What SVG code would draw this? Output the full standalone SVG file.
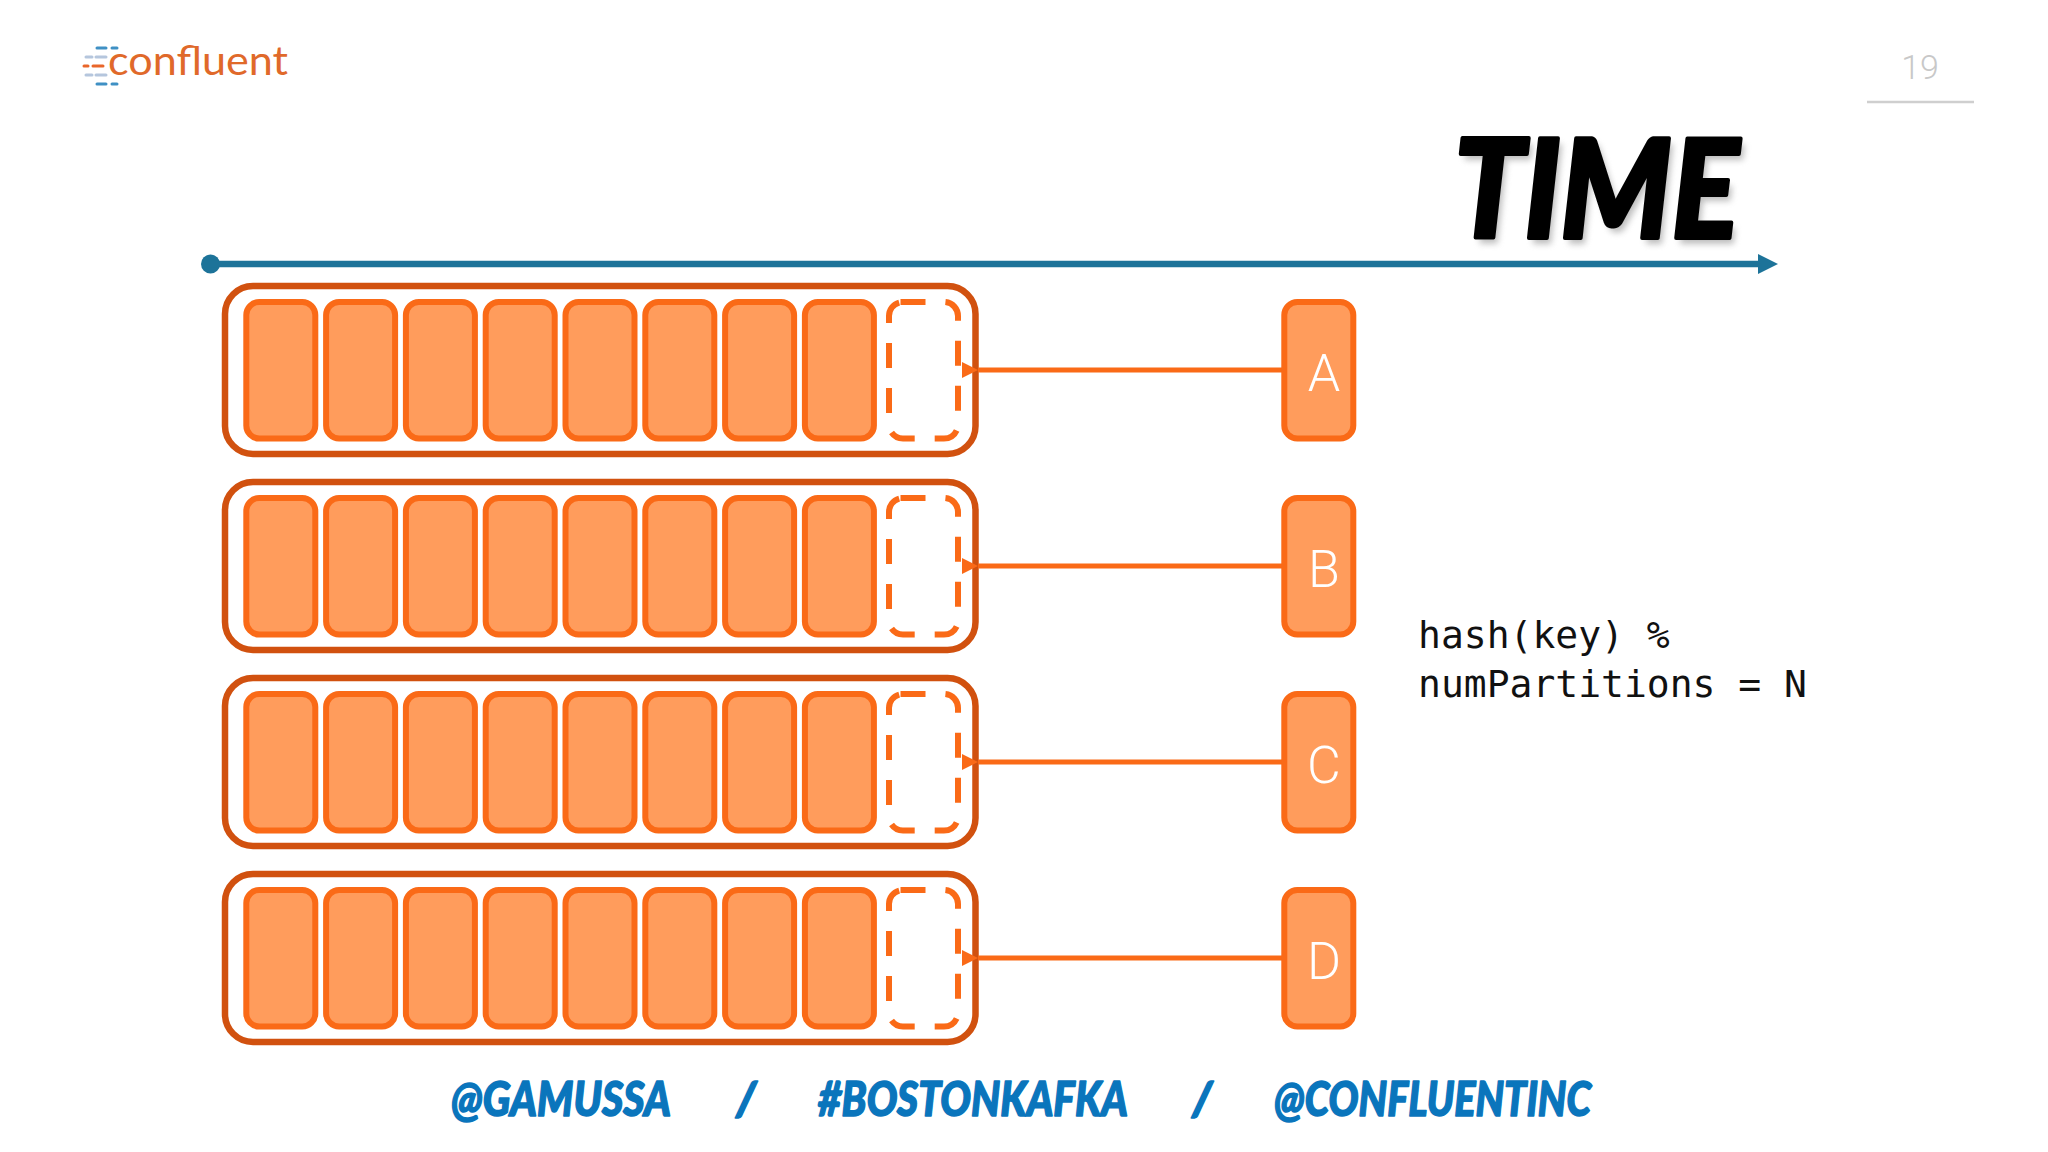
<svg xmlns="http://www.w3.org/2000/svg" width="2048" height="1152" viewBox="0 0 2048 1152">
<style>
.outer{fill:#fff;stroke:#d1510f;stroke-width:6.5}
.cell{fill:#ff9c5c;stroke:#fa6a17;stroke-width:6}
.slot{fill:none;stroke:#fa6a17;stroke-width:6;stroke-dasharray:25 20}
.lab{font-family:"Roboto","Liberation Sans",sans-serif;font-weight:300;font-size:52px;fill:#fff;text-anchor:middle}
.conn{fill:none;stroke:#fa6a17;stroke-width:5}
.brand{font-family:"Lato","Open Sans",sans-serif;font-weight:900;font-style:italic;font-size:47px;fill:#0a75bc;stroke:#0a75bc;stroke-width:1.5;stroke-linejoin:round}
.code{font-family:"DejaVu Sans Mono","Liberation Mono",monospace;font-size:38px;fill:#111}
.ld{stroke-width:3;stroke-linecap:round;fill:none}
</style>
<defs>
<marker id="arrOrange" markerUnits="userSpaceOnUse" markerWidth="16" markerHeight="16" refX="0" refY="8" orient="auto"><path d="M0 8L16 0V16Z" fill="#fa6a17"/></marker>
<marker id="arrBlue" markerUnits="userSpaceOnUse" markerWidth="20" markerHeight="20" refX="0" refY="10" orient="auto"><path d="M0 0L20 10L0 20Z" fill="#1d7399"/></marker>
<filter id="soft" x="-10%" y="-10%" width="120%" height="130%"><feGaussianBlur stdDeviation="3"/></filter>
</defs>
<rect width="2048" height="1152" fill="#fff"/>

<g id="logo">
<path class="ld" stroke="#3f90c4" d="M97 48H106M112 48H117M97 84H106M112 84H117"/>
<path class="ld" stroke="#b5c6dd" d="M86 57H92M96 57H106M86 75H92M96 75H106"/>
<path class="ld" stroke="#e9662a" d="M84 66H88M93 66H103"/>
<text x="108" y="75" font-family="Lato,'Open Sans',sans-serif" font-size="41" font-weight="400" fill="#e0692a" textLength="180" lengthAdjust="spacingAndGlyphs">confluent</text>
</g>
<g id="page-number">
<text x="1920" y="79" font-family="Roboto,'Liberation Sans',sans-serif" font-weight="300" font-size="34" fill="#c8c8c8" text-anchor="middle">19</text>
<path d="M1867 102H1974" stroke="#cfcfcf" stroke-width="2.5"/>
</g>
<g id="time-label">
<text x="1458" y="244" font-family="Lato,'Open Sans',sans-serif" font-weight="900" font-style="italic" font-size="138" fill="#888" opacity=".55" filter="url(#soft)" textLength="285" lengthAdjust="spacingAndGlyphs">TIME</text>
<text x="1454" y="238" font-family="Lato,'Open Sans',sans-serif" font-weight="900" font-style="italic" font-size="138" fill="#000" stroke="#000" stroke-width="4" stroke-linejoin="round" textLength="285" lengthAdjust="spacingAndGlyphs">TIME</text>
</g>

<g id="partition-a">
<rect class="outer" x="225" y="286" width="750.5" height="168" rx="28"/>
<rect class="cell" x="246.3" y="302" width="69" height="136.5" rx="13"/><rect class="cell" x="326.1" y="302" width="69" height="136.5" rx="13"/><rect class="cell" x="405.9" y="302" width="69" height="136.5" rx="13"/><rect class="cell" x="485.7" y="302" width="69" height="136.5" rx="13"/><rect class="cell" x="565.5" y="302" width="69" height="136.5" rx="13"/><rect class="cell" x="645.3" y="302" width="69" height="136.5" rx="13"/><rect class="cell" x="725.1" y="302" width="69" height="136.5" rx="13"/><rect class="cell" x="804.9" y="302" width="69" height="136.5" rx="13"/>
<path class="slot" d="M900.5 302H944a14 14 0 0 1 14 14V424.5a14 14 0 0 1-14 14H903a14 14 0 0 1-14-14V316a14 14 0 0 1 14-14Z"/>
</g>
<g id="partition-b" transform="translate(0,196)">
<rect class="outer" x="225" y="286" width="750.5" height="168" rx="28"/>
<rect class="cell" x="246.3" y="302" width="69" height="136.5" rx="13"/><rect class="cell" x="326.1" y="302" width="69" height="136.5" rx="13"/><rect class="cell" x="405.9" y="302" width="69" height="136.5" rx="13"/><rect class="cell" x="485.7" y="302" width="69" height="136.5" rx="13"/><rect class="cell" x="565.5" y="302" width="69" height="136.5" rx="13"/><rect class="cell" x="645.3" y="302" width="69" height="136.5" rx="13"/><rect class="cell" x="725.1" y="302" width="69" height="136.5" rx="13"/><rect class="cell" x="804.9" y="302" width="69" height="136.5" rx="13"/>
<path class="slot" d="M900.5 302H944a14 14 0 0 1 14 14V424.5a14 14 0 0 1-14 14H903a14 14 0 0 1-14-14V316a14 14 0 0 1 14-14Z"/>
</g>
<g id="partition-c" transform="translate(0,392)">
<rect class="outer" x="225" y="286" width="750.5" height="168" rx="28"/>
<rect class="cell" x="246.3" y="302" width="69" height="136.5" rx="13"/><rect class="cell" x="326.1" y="302" width="69" height="136.5" rx="13"/><rect class="cell" x="405.9" y="302" width="69" height="136.5" rx="13"/><rect class="cell" x="485.7" y="302" width="69" height="136.5" rx="13"/><rect class="cell" x="565.5" y="302" width="69" height="136.5" rx="13"/><rect class="cell" x="645.3" y="302" width="69" height="136.5" rx="13"/><rect class="cell" x="725.1" y="302" width="69" height="136.5" rx="13"/><rect class="cell" x="804.9" y="302" width="69" height="136.5" rx="13"/>
<path class="slot" d="M900.5 302H944a14 14 0 0 1 14 14V424.5a14 14 0 0 1-14 14H903a14 14 0 0 1-14-14V316a14 14 0 0 1 14-14Z"/>
</g>
<g id="partition-d" transform="translate(0,588)">
<rect class="outer" x="225" y="286" width="750.5" height="168" rx="28"/>
<rect class="cell" x="246.3" y="302" width="69" height="136.5" rx="13"/><rect class="cell" x="326.1" y="302" width="69" height="136.5" rx="13"/><rect class="cell" x="405.9" y="302" width="69" height="136.5" rx="13"/><rect class="cell" x="485.7" y="302" width="69" height="136.5" rx="13"/><rect class="cell" x="565.5" y="302" width="69" height="136.5" rx="13"/><rect class="cell" x="645.3" y="302" width="69" height="136.5" rx="13"/><rect class="cell" x="725.1" y="302" width="69" height="136.5" rx="13"/><rect class="cell" x="804.9" y="302" width="69" height="136.5" rx="13"/>
<path class="slot" d="M900.5 302H944a14 14 0 0 1 14 14V424.5a14 14 0 0 1-14 14H903a14 14 0 0 1-14-14V316a14 14 0 0 1 14-14Z"/>
</g>

<g id="connectors">
<circle cx="210.5" cy="264" r="9.5" fill="#1d7399"/>
<path d="M210 264H1758" fill="none" stroke="#1d7399" stroke-width="6.5" marker-end="url(#arrBlue)"/>
<path class="conn" d="M1282 370H978" marker-end="url(#arrOrange)"/>
<path class="conn" d="M1282 566H978" marker-end="url(#arrOrange)"/>
<path class="conn" d="M1282 762H978" marker-end="url(#arrOrange)"/>
<path class="conn" d="M1282 958H978" marker-end="url(#arrOrange)"/>
</g>

<g id="node-a"><rect class="cell" x="1284.3" y="302" width="69" height="136.5" rx="13"/><text class="lab" x="1324" y="391">A</text></g>
<g id="node-b"><rect class="cell" x="1284.3" y="498" width="69" height="136.5" rx="13"/><text class="lab" x="1324" y="587">B</text></g>
<g id="node-c"><rect class="cell" x="1284.3" y="694" width="69" height="136.5" rx="13"/><text class="lab" x="1324" y="783">C</text></g>
<g id="node-d"><rect class="cell" x="1284.3" y="890" width="69" height="136.5" rx="13"/><text class="lab" x="1324" y="979">D</text></g>

<g id="formula">
<text class="code" x="1418" y="648">hash(key) %</text>
<text class="code" x="1418" y="697">numPartitions = N</text>
</g>

<g id="footer">
<text class="brand" x="451" y="1116" textLength="220" lengthAdjust="spacingAndGlyphs">@GAMUSSA</text>
<text class="brand" x="736" y="1116">/</text>
<text class="brand" x="818" y="1116" textLength="310" lengthAdjust="spacingAndGlyphs">#BOSTONKAFKA</text>
<text class="brand" x="1192" y="1116">/</text>
<text class="brand" x="1274" y="1116" textLength="317" lengthAdjust="spacingAndGlyphs">@CONFLUENTINC</text>
</g>
</svg>
